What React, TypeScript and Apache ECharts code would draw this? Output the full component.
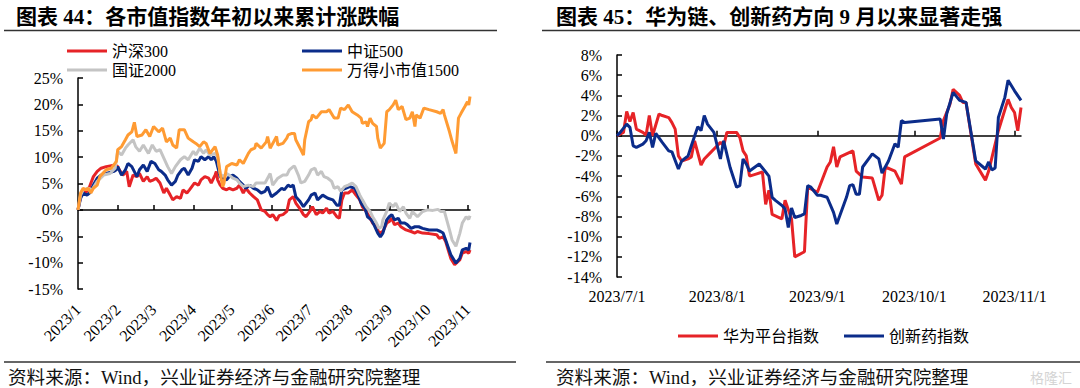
import React, { useEffect, useRef } from 'react';
import * as echarts from 'echarts';

// ---------- Left chart: 各市值指数年初以来累计涨跌幅 ----------
const leftRange = ['2023-01-01', '2023-11-03'];
const leftMonthTicks = ['2023-01-01', '2023-02-01', '2023-03-01', '2023-04-01', '2023-05-01', '2023-06-01', '2023-07-01', '2023-08-01', '2023-09-01', '2023-10-01', '2023-11-01'];
const leftNames = ['沪深300', '中证500', '国证2000', '万得小市值1500'];

const hs300: [string, number][] = [
  ['2023-01-01', 0], ['2023-01-03', 2.5], ['2023-01-05', 3.2], ['2023-01-08', 3.5], ['2023-01-10', 4.4], ['2023-01-13', 6.3], ['2023-01-16', 7.3], ['2023-01-19', 7.9], ['2023-01-23', 8.2], ['2023-01-30', 8.5],
  ['2023-02-01', 8.2], ['2023-02-03', 7.3], ['2023-02-05', 6.6], ['2023-02-08', 7.3], ['2023-02-10', 4.4], ['2023-02-13', 6.6], ['2023-02-16', 6.3], ['2023-02-18', 6.9], ['2023-02-21', 5.4], ['2023-02-24', 6.3], ['2023-02-26', 5.4],
  ['2023-03-01', 5.7], ['2023-03-03', 6.0], ['2023-03-06', 5.1], ['2023-03-09', 3.2], ['2023-03-11', 4.1], ['2023-03-14', 2.8], ['2023-03-16', 1.9], ['2023-03-19', 2.5], ['2023-03-22', 2.2], ['2023-03-24', 3.8], ['2023-03-27', 3.2], ['2023-03-29', 3.8],
  ['2023-04-02', 5.1], ['2023-04-05', 4.7], ['2023-04-07', 5.7], ['2023-04-10', 6.3], ['2023-04-13', 6.0], ['2023-04-15', 5.1], ['2023-04-18', 6.6], ['2023-04-19', 7.3], ['2023-04-20', 5.7], ['2023-04-22', 4.7], ['2023-04-24', 4.1], ['2023-04-27', 3.8], ['2023-04-29', 4.1],
  ['2023-05-02', 3.8], ['2023-05-05', 4.1], ['2023-05-07', 4.7], ['2023-05-10', 3.2], ['2023-05-12', 4.1], ['2023-05-15', 3.2], ['2023-05-18', 2.5], ['2023-05-21', 1.9], ['2023-05-24', 0], ['2023-05-27', -0.3], ['2023-05-29', -0.9], ['2023-05-31', -1.3],
  ['2023-06-02', -0.9], ['2023-06-05', -2.0], ['2023-06-07', -1.1], ['2023-06-10', -0.9], ['2023-06-13', -0.3], ['2023-06-15', 1.9], ['2023-06-18', 2.5], ['2023-06-20', 1.3], ['2023-06-23', 0.3], ['2023-06-26', -0.9], ['2023-06-28', -1.3],
  ['2023-07-01', -0.3], ['2023-07-03', 0.6], ['2023-07-06', -0.9], ['2023-07-09', -0.3], ['2023-07-11', -0.6], ['2023-07-14', 0.3], ['2023-07-16', -0.6], ['2023-07-19', -0.3], ['2023-07-22', -1.3], ['2023-07-24', -1.6], ['2023-07-26', 1.9], ['2023-07-28', 3.2], ['2023-07-31', 3.2],
  ['2023-08-03', 3.8], ['2023-08-06', 2.8], ['2023-08-09', 1.9], ['2023-08-11', 0.6], ['2023-08-14', -0.3], ['2023-08-17', -1.6], ['2023-08-19', -2.5], ['2023-08-22', -3.2], ['2023-08-24', -4.4], ['2023-08-27', -4.1], ['2023-08-30', -2.5],
  ['2023-09-01', -2.2], ['2023-09-03', -1.6], ['2023-09-05', -2.8], ['2023-09-08', -2.5], ['2023-09-10', -3.2], ['2023-09-14', -3.8], ['2023-09-18', -4.1], ['2023-09-21', -4.4], ['2023-09-23', -4.1], ['2023-09-27', -4.4],
  ['2023-10-02', -4.5], ['2023-10-08', -4.7], ['2023-10-10', -5.4], ['2023-10-13', -5.1], ['2023-10-15', -6.0], ['2023-10-19', -9.2], ['2023-10-22', -10.4], ['2023-10-26', -9.5], ['2023-10-28', -8.2], ['2023-10-31', -7.9],
  ['2023-11-02', -8.2], ['2023-11-03', -7.6],
];

const zz500: [string, number][] = [
  ['2023-01-01', 0], ['2023-01-03', 2.2], ['2023-01-05', 3.2], ['2023-01-08', 2.8], ['2023-01-10', 3.2], ['2023-01-13', 4.7], ['2023-01-16', 6.0], ['2023-01-19', 6.6], ['2023-01-23', 6.9], ['2023-01-29', 7.3], ['2023-01-31', 7.6],
  ['2023-02-01', 8.2], ['2023-02-04', 6.6], ['2023-02-07', 7.6], ['2023-02-09', 8.8], ['2023-02-12', 8.2], ['2023-02-16', 6.3], ['2023-02-18', 7.6], ['2023-02-21', 8.5], ['2023-02-24', 7.3], ['2023-02-27', 9.2],
  ['2023-03-02', 8.8], ['2023-03-05', 7.6], ['2023-03-07', 7.3], ['2023-03-10', 6.6], ['2023-03-12', 5.7], ['2023-03-15', 4.7], ['2023-03-18', 5.4], ['2023-03-20', 6.6], ['2023-03-23', 7.6], ['2023-03-25', 7.9], ['2023-03-28', 6.6], ['2023-03-31', 7.9],
  ['2023-04-02', 9.5], ['2023-04-05', 9.2], ['2023-04-07', 10.1], ['2023-04-10', 9.5], ['2023-04-13', 10.1], ['2023-04-15', 9.5], ['2023-04-17', 10.1], ['2023-04-19', 9.2], ['2023-04-22', 6.3], ['2023-04-24', 6.0], ['2023-04-27', 5.7], ['2023-04-29', 6.3],
  ['2023-05-02', 6.6], ['2023-05-05', 6.0], ['2023-05-07', 5.4], ['2023-05-10', 4.7], ['2023-05-12', 4.1], ['2023-05-15', 4.7], ['2023-05-18', 4.1], ['2023-05-21', 3.8], ['2023-05-24', 3.2], ['2023-05-27', 3.5], ['2023-05-29', 4.4],
  ['2023-06-01', 2.5], ['2023-06-05', 3.2], ['2023-06-09', 4.1], ['2023-06-11', 3.8], ['2023-06-14', 4.7], ['2023-06-16', 4.4], ['2023-06-18', 4.7], ['2023-06-20', 2.5], ['2023-06-23', 1.7], ['2023-06-26', 0.6], ['2023-06-30', 1.9],
  ['2023-07-02', 2.8], ['2023-07-05', 3.2], ['2023-07-07', 1.9], ['2023-07-11', 2.8], ['2023-07-15', 2.2], ['2023-07-19', 1.9], ['2023-07-22', 0.9], ['2023-07-24', 0.9], ['2023-07-26', 3.8], ['2023-07-29', 4.1],
  ['2023-08-01', 4.4], ['2023-08-05', 4.1], ['2023-08-07', 3.2], ['2023-08-10', 1.3], ['2023-08-13', 0.3], ['2023-08-15', -1.3], ['2023-08-18', -1.9], ['2023-08-20', -2.8], ['2023-08-23', -4.4], ['2023-08-25', -5.1], ['2023-08-27', -4.4], ['2023-08-30', -1.9],
  ['2023-09-01', -1.3], ['2023-09-03', -0.9], ['2023-09-05', -1.9], ['2023-09-08', -1.6], ['2023-09-10', -2.5], ['2023-09-13', -2.5], ['2023-09-15', -2.8], ['2023-09-18', -3.5], ['2023-09-21', -3.2], ['2023-09-24', -3.2], ['2023-09-27', -3.5],
  ['2023-10-02', -3.8], ['2023-10-08', -3.8], ['2023-10-11', -4.1], ['2023-10-13', -4.4], ['2023-10-15', -5.7], ['2023-10-19', -8.5], ['2023-10-23', -10.1], ['2023-10-26', -9.2], ['2023-10-28', -7.6], ['2023-10-31', -7.3],
  ['2023-11-02', -7.6], ['2023-11-03', -6.2],
];

const gz2000: [string, number][] = [
  ['2023-01-01', 0], ['2023-01-03', 2.8], ['2023-01-05', 3.8], ['2023-01-09', 4.1], ['2023-01-12', 3.8], ['2023-01-16', 5.4], ['2023-01-21', 6.6], ['2023-01-26', 6.9], ['2023-01-30', 7.9],
  ['2023-02-01', 11.1], ['2023-02-04', 10.4], ['2023-02-07', 11.7], ['2023-02-09', 12.3], ['2023-02-13', 13.3], ['2023-02-15', 12.0], ['2023-02-18', 11.1], ['2023-02-21', 12.3], ['2023-02-25', 10.7], ['2023-02-28', 12.3],
  ['2023-03-03', 11.1], ['2023-03-06', 11.4], ['2023-03-09', 9.8], ['2023-03-12', 8.2], ['2023-03-15', 6.9], ['2023-03-18', 8.2], ['2023-03-22', 9.5], ['2023-03-25', 10.1], ['2023-03-28', 9.5],
  ['2023-04-01', 11.1], ['2023-04-03', 10.4], ['2023-04-06', 11.7], ['2023-04-09', 10.7], ['2023-04-11', 11.4], ['2023-04-14', 10.4], ['2023-04-18', 10.7], ['2023-04-20', 10.1], ['2023-04-22', 6.9], ['2023-04-24', 6.3], ['2023-04-27', 6.9], ['2023-04-29', 6.6],
  ['2023-05-02', 6.0], ['2023-05-05', 5.7], ['2023-05-07', 5.1], ['2023-05-10', 4.4], ['2023-05-14', 4.7], ['2023-05-18', 4.4], ['2023-05-20', 5.1], ['2023-05-24', 5.1], ['2023-05-27', 5.1], ['2023-05-29', 6.0], ['2023-05-31', 6.9],
  ['2023-06-02', 4.7], ['2023-06-06', 6.0], ['2023-06-10', 6.6], ['2023-06-13', 6.6], ['2023-06-15', 7.6], ['2023-06-18', 8.2], ['2023-06-19', 8.3], ['2023-06-22', 6.6], ['2023-06-24', 5.1], ['2023-06-27', 5.4], ['2023-06-30', 6.6],
  ['2023-07-02', 7.6], ['2023-07-05', 7.9], ['2023-07-07', 6.6], ['2023-07-10', 7.3], ['2023-07-12', 6.3], ['2023-07-15', 6.0], ['2023-07-18', 5.4], ['2023-07-20', 4.1], ['2023-07-23', 4.4], ['2023-07-25', 3.5], ['2023-07-28', 4.4], ['2023-07-31', 4.7],
  ['2023-08-03', 5.1], ['2023-08-06', 4.4], ['2023-08-09', 2.8], ['2023-08-11', 1.9], ['2023-08-14', 0.6], ['2023-08-17', -0.3], ['2023-08-19', -1.3], ['2023-08-22', -2.5], ['2023-08-24', -3.5], ['2023-08-26', -3.2], ['2023-08-27', -1.9], ['2023-08-30', -0.3],
  ['2023-09-01', 1.3], ['2023-09-04', 0.6], ['2023-09-06', 1.3], ['2023-09-09', -0.3], ['2023-09-12', 0.6], ['2023-09-14', -0.6], ['2023-09-17', -1.6], ['2023-09-19', -0.3], ['2023-09-23', -1.3], ['2023-09-27', -0.3],
  ['2023-10-01', 0], ['2023-10-05', -0.1], ['2023-10-09', 0.1], ['2023-10-11', -0.3], ['2023-10-14', -0.3], ['2023-10-18', -3.8], ['2023-10-20', -5.7], ['2023-10-23', -6.9], ['2023-10-26', -4.5], ['2023-10-28', -2.5], ['2023-10-31', -1.3],
  ['2023-11-02', -1.8], ['2023-11-03', -1.1],
];

const wd1500: [string, number][] = [
  ['2023-01-01', 0], ['2023-01-03', 3.2], ['2023-01-05', 4.1], ['2023-01-07', 3.8], ['2023-01-09', 4.1], ['2023-01-11', 3.2], ['2023-01-13', 4.1], ['2023-01-16', 4.7], ['2023-01-18', 6.3], ['2023-01-23', 7.6], ['2023-01-27', 7.9], ['2023-01-31', 9.2],
  ['2023-02-01', 11.4], ['2023-02-04', 12.0], ['2023-02-07', 13.3], ['2023-02-09', 14.2], ['2023-02-12', 14.8], ['2023-02-14', 16.6], ['2023-02-16', 13.9], ['2023-02-20', 14.2], ['2023-02-23', 15.2], ['2023-02-26', 13.9],
  ['2023-03-01', 15.8], ['2023-03-05', 14.8], ['2023-03-08', 15.5], ['2023-03-11', 12.9], ['2023-03-14', 13.6], ['2023-03-16', 12.3], ['2023-03-19', 11.7], ['2023-03-21', 15.2], ['2023-03-25', 15.2], ['2023-03-28', 13.6],
  ['2023-04-01', 12.9], ['2023-04-03', 12.6], ['2023-04-06', 12.0], ['2023-04-09', 12.9], ['2023-04-11', 12.6], ['2023-04-14', 10.7], ['2023-04-18', 12.0], ['2023-04-20', 10.4], ['2023-04-22', 6.9], ['2023-04-24', 4.4], ['2023-04-25', 5.1], ['2023-04-27', 8.2],
  ['2023-05-01', 8.8], ['2023-05-05', 8.5], ['2023-05-07', 9.5], ['2023-05-10', 8.8], ['2023-05-14', 10.7], ['2023-05-16', 11.4], ['2023-05-19', 11.7], ['2023-05-20', 12.6], ['2023-05-24', 11.7], ['2023-05-28', 12.9], ['2023-05-29', 13.9], ['2023-05-31', 11.7],
  ['2023-06-05', 13.9], ['2023-06-06', 12.3], ['2023-06-10', 12.6], ['2023-06-13', 13.6], ['2023-06-14', 14.2], ['2023-06-17', 14.5], ['2023-06-19', 14.5], ['2023-06-20', 13.3], ['2023-06-24', 11.4], ['2023-06-26', 10.4], ['2023-06-27', 13.3], ['2023-06-30', 16.7],
  ['2023-07-02', 17.1], ['2023-07-03', 18.0], ['2023-07-06', 17.4], ['2023-07-10', 18.6], ['2023-07-14', 18.6], ['2023-07-16', 19.0], ['2023-07-20', 17.4], ['2023-07-23', 17.4], ['2023-07-25', 19.3], ['2023-07-28', 19.0], ['2023-07-31', 19.9],
  ['2023-08-03', 18.6], ['2023-08-07', 18.0], ['2023-08-10', 17.4], ['2023-08-11', 16.4], ['2023-08-14', 16.7], ['2023-08-15', 15.8], ['2023-08-17', 17.4], ['2023-08-19', 16.4], ['2023-08-22', 15.8], ['2023-08-23', 13.6], ['2023-08-25', 11.7], ['2023-08-28', 12.6], ['2023-08-30', 18.6],
  ['2023-09-01', 19.0], ['2023-09-04', 19.9], ['2023-09-06', 20.8], ['2023-09-08', 19.0], ['2023-09-11', 19.6], ['2023-09-14', 17.1], ['2023-09-17', 17.4], ['2023-09-19', 18.6], ['2023-09-21', 15.8], ['2023-09-22', 18.0], ['2023-09-25', 17.4], ['2023-09-28', 19.3],
  ['2023-10-02', 19.0], ['2023-10-08', 18.6], ['2023-10-11', 18.3], ['2023-10-13', 19.0], ['2023-10-14', 18.0], ['2023-10-18', 14.8], ['2023-10-20', 13.0], ['2023-10-23', 10.7], ['2023-10-25', 17.4], ['2023-10-27', 18.3], ['2023-10-30', 19.6],
  ['2023-11-01', 20.5], ['2023-11-02', 19.9], ['2023-11-03', 21.5],
];

// ---------- Right chart: 华为链、创新药方向 9 月以来显著走强 ----------
const rightRange = ['2023-07-01', '2023-11-03'];
const rightMonthTicks = ['2023-07-01', '2023-08-01', '2023-09-01', '2023-10-01', '2023-11-01'];
const rightNames = ['华为平台指数', '创新药指数'];

const huawei: [string, number][] = [
  ['2023-07-01', 0], ['2023-07-03', 0.33], ['2023-07-04', 2.4], ['2023-07-05', 1.4], ['2023-07-06', 2.3], ['2023-07-07', 0.66], ['2023-07-09', 0.33], ['2023-07-10', 0.07], ['2023-07-11', 2.0], ['2023-07-12', 0.0],
  ['2023-07-14', 2.15], ['2023-07-15', 2.0], ['2023-07-17', 1.8], ['2023-07-18', 1.3], ['2023-07-19', 0.66], ['2023-07-20', -2.0], ['2023-07-21', -2.5], ['2023-07-23', -2.3], ['2023-07-24', -2.1], ['2023-07-25', -0.5],
  ['2023-07-27', -2.9], ['2023-07-28', -2.3], ['2023-07-30', -1.65], ['2023-08-01', -1.0], ['2023-08-02', -0.66], ['2023-08-03', -1.0], ['2023-08-04', 0.33], ['2023-08-06', 0.33], ['2023-08-07', 0.33], ['2023-08-08', -0.17],
  ['2023-08-09', -1.5], ['2023-08-10', -2.0], ['2023-08-11', -4.0], ['2023-08-13', -3.8], ['2023-08-15', -3.6], ['2023-08-16', -6.8], ['2023-08-17', -5.4], ['2023-08-18', -7.8], ['2023-08-20', -8.1], ['2023-08-21', -8.25],
  ['2023-08-22', -6.4], ['2023-08-24', -8.25], ['2023-08-25', -12.0], ['2023-08-28', -11.5], ['2023-08-29', -5.1], ['2023-09-01', -5.6], ['2023-09-04', -3.1], ['2023-09-05', -2.6], ['2023-09-06', -1.1], ['2023-09-07', -3.1],
  ['2023-09-08', -2.1], ['2023-09-12', -1.5], ['2023-09-13', -3.5], ['2023-09-15', -4.1], ['2023-09-18', -4.2], ['2023-09-20', -6.4], ['2023-09-21', -5.9], ['2023-09-22', -3.1], ['2023-09-25', -3.5], ['2023-09-27', -4.8],
  ['2023-09-28', -2.1], ['2023-10-09', -0.23], ['2023-10-10', 1.5], ['2023-10-12', 3.1], ['2023-10-13', 4.6], ['2023-10-15', 4.0], ['2023-10-16', 3.3], ['2023-10-17', 3.3], ['2023-10-20', -2.8], ['2023-10-23', -4.4],
  ['2023-10-24', -3.5], ['2023-10-27', 0.5], ['2023-10-30', 3.6], ['2023-10-31', 2.8], ['2023-11-01', 2.3], ['2023-11-02', 0.5], ['2023-11-03', 2.8],
];

const innovDrug: [string, number][] = [
  ['2023-07-01', 0], ['2023-07-02', 0.33], ['2023-07-04', 1.15], ['2023-07-05', 0.83], ['2023-07-06', -1.0], ['2023-07-07', -1.15], ['2023-07-09', -0.83], ['2023-07-10', -0.5], ['2023-07-11', 0.33], ['2023-07-12', -1.15],
  ['2023-07-13', 0.23], ['2023-07-15', -0.66], ['2023-07-17', -1.5], ['2023-07-18', -1.6], ['2023-07-20', -3.3], ['2023-07-21', -2.5], ['2023-07-23', -2.0], ['2023-07-24', -1.0], ['2023-07-26', 0.9], ['2023-07-27', 0.5],
  ['2023-07-28', 2.0], ['2023-07-29', 1.15], ['2023-07-31', 0.33], ['2023-08-02', -2.3], ['2023-08-03', -0.5], ['2023-08-05', -3.15], ['2023-08-07', -5.1], ['2023-08-08', -4.95], ['2023-08-09', -2.3], ['2023-08-10', -2.8],
  ['2023-08-11', -3.5], ['2023-08-14', -2.8], ['2023-08-16', -3.6], ['2023-08-17', -4.0], ['2023-08-18', -6.1], ['2023-08-19', -6.4], ['2023-08-21', -6.9], ['2023-08-22', -7.25], ['2023-08-23', -9.1], ['2023-08-24', -7.15],
  ['2023-08-25', -8.1], ['2023-08-27', -7.9], ['2023-08-28', -7.75], ['2023-08-29', -4.95], ['2023-08-30', -5.1], ['2023-09-01', -5.9], ['2023-09-02', -5.9], ['2023-09-04', -6.1], ['2023-09-06', -7.6], ['2023-09-07', -8.75],
  ['2023-09-10', -6.1], ['2023-09-11', -4.95], ['2023-09-12', -4.85], ['2023-09-13', -5.8], ['2023-09-14', -5.8], ['2023-09-15', -3.1], ['2023-09-18', -1.8], ['2023-09-20', -2.3], ['2023-09-21', -3.7], ['2023-09-23', -2.5],
  ['2023-09-25', -0.8], ['2023-09-26', -1.15], ['2023-09-27', 1.5], ['2023-09-28', 1.3], ['2023-10-09', 1.65], ['2023-10-10', -0.33], ['2023-10-11', 2.15], ['2023-10-13', 4.3], ['2023-10-15', 3.5], ['2023-10-17', 3.3],
  ['2023-10-20', -2.5], ['2023-10-23', -3.3], ['2023-10-24', -2.6], ['2023-10-25', -3.4], ['2023-10-26', -3.2], ['2023-10-27', 1.8], ['2023-10-29', 3.8], ['2023-10-30', 5.5], ['2023-11-01', 4.45], ['2023-11-03', 3.5],
];

const titles = ['图表 44：各市值指数年初以来累计涨跌幅', '图表 45：华为链、创新药方向 9 月以来显著走强'];
const sourceText = '资料来源：Wind，兴业证券经济与金融研究院整理';

const colors = { red: '#E62327', blue: '#0B2C8A', grey: '#C4C4C4', orange: '#FF9B33' };
const SERIF = '"Liberation Serif", "Noto Sans CJK SC", serif';

function ts(s: string): number {
  const [y, m, d] = s.split('-').map(Number);
  return Date.UTC(y, m - 1, d);
}
function fmtMonth(v: number): string {
  const d = new Date(v);
  return `${d.getUTCFullYear()}/${d.getUTCMonth() + 1}`;
}
function fmtDay(v: number): string {
  const d = new Date(v);
  return `${d.getUTCFullYear()}/${d.getUTCMonth() + 1}/${d.getUTCDate()}`;
}
const toXY = (arr: [string, number][]) => arr.map(([d, v]) => [ts(d), v]);

export default function App() {
  const ref = useRef<HTMLDivElement>(null);

  useEffect(() => {
    if (!ref.current) return;
    const chart = echarts.init(ref.current, undefined, { renderer: 'svg' });

    const leftTicks = leftMonthTicks.map(ts);
    const rightTicks = rightMonthTicks.map(ts);
    const axisBlack = { color: '#000', width: 1.5 };
    const labelStyle = { color: '#000', fontSize: 16, fontFamily: SERIF };

    const lineSeries = (name: string, data: [string, number][], color: string, xi: number, yi: number) => ({
      name, type: 'line', data: toXY(data), xAxisIndex: xi, yAxisIndex: yi,
      showSymbol: false, symbol: 'none', color,
      lineStyle: { color, width: 3 }, emphasis: { disabled: true },
    });

    const legendText = { color: '#000', fontSize: 16, fontFamily: SERIF };

    const xLine = (grid: number, range: string[], ticks: number[]) => ({
      gridIndex: grid, type: 'value', min: ts(range[0]), max: ts(range[1]), position: 'bottom',
      axisLine: { show: true, onZero: true, lineStyle: axisBlack },
      axisTick: { show: true, inside: true, length: 5, customValues: ticks, lineStyle: axisBlack },
      axisLabel: { show: false }, splitLine: { show: false },
    });
    const xLabels = (grid: number, range: string[], ticks: number[], fmt: (v: number) => string, extra: any) => ({
      gridIndex: grid, type: 'value', min: ts(range[0]), max: ts(range[1]), position: 'bottom',
      axisLine: { show: false, onZero: false }, axisTick: { show: false }, splitLine: { show: false },
      axisLabel: { ...labelStyle, ...extra, customValues: ticks, formatter: (v: number) => fmt(v), showMinLabel: true, showMaxLabel: true, hideOverlap: false },
    });

    const option: any = {
      animation: false,
      backgroundColor: '#ffffff',
      textStyle: { fontFamily: SERIF },
      legend: [
        { left: 62, top: 38, icon: 'rect', itemWidth: 40, itemHeight: 3, itemGap: 134, selectedMode: false, data: [leftNames[0], leftNames[1]], textStyle: legendText },
        { left: 62, top: 57, icon: 'rect', itemWidth: 40, itemHeight: 3, itemGap: 126, selectedMode: false, data: [leftNames[2], leftNames[3]], textStyle: legendText },
        { left: 673, top: 323, icon: 'rect', itemWidth: 40, itemHeight: 3, itemGap: 25, selectedMode: false, data: rightNames, textStyle: legendText },
      ],
      grid: [
        { left: 78, top: 78, width: 392, height: 211 },
        { left: 617, top: 55, width: 404, height: 222 },
      ],
      xAxis: [
        xLine(0, leftRange, leftTicks),
        xLabels(0, leftRange, leftTicks, fmtMonth, { rotate: 45, margin: 18 }),
        xLine(1, rightRange, rightTicks),
        xLabels(1, rightRange, rightTicks, fmtDay, { margin: 11 }),
      ],
      yAxis: [
        {
          gridIndex: 0, type: 'value', min: -15, max: 25, interval: 5,
          axisLine: { show: true, lineStyle: axisBlack },
          axisTick: { show: true, inside: true, length: 5, lineStyle: axisBlack },
          axisLabel: { ...labelStyle, margin: 15, formatter: '{value}%' }, splitLine: { show: false },
        },
        {
          gridIndex: 1, type: 'value', min: -14, max: 8, interval: 2,
          axisLine: { show: true, lineStyle: axisBlack },
          axisTick: { show: true, inside: true, length: 5, lineStyle: axisBlack },
          axisLabel: { ...labelStyle, margin: 15, formatter: '{value}%' }, splitLine: { show: false },
        },
      ],
      series: [
        lineSeries(leftNames[0], hs300, colors.red, 0, 0),
        lineSeries(leftNames[1], zz500, colors.blue, 0, 0),
        lineSeries(leftNames[2], gz2000, colors.grey, 0, 0),
        lineSeries(leftNames[3], wd1500, colors.orange, 0, 0),
        lineSeries(rightNames[0], huawei, colors.red, 2, 1),
        lineSeries(rightNames[1], innovDrug, colors.blue, 2, 1),
      ],
      graphic: [
        { type: 'text', x: 16, y: 17, style: { text: titles[0], fontSize: 21, fontWeight: 'bold', fontFamily: SERIF, fill: '#000', verticalAlign: 'middle' } },
        { type: 'text', x: 556, y: 17, style: { text: titles[1], fontSize: 21, fontWeight: 'bold', fontFamily: SERIF, fill: '#000', verticalAlign: 'middle' } },
        { type: 'line', shape: { x1: 4, y1: 30.5, x2: 497, y2: 30.5 }, style: { stroke: '#333', lineWidth: 1.5 } },
        { type: 'line', shape: { x1: 542, y1: 30.5, x2: 1080, y2: 30.5 }, style: { stroke: '#333', lineWidth: 1.5 } },
        { type: 'line', shape: { x1: 4, y1: 362, x2: 516, y2: 362 }, style: { stroke: '#333', lineWidth: 1.5 } },
        { type: 'line', shape: { x1: 546, y1: 362, x2: 1080, y2: 362 }, style: { stroke: '#333', lineWidth: 1.5 } },
        { type: 'text', x: 8, y: 377, style: { text: sourceText, fontSize: 18.6, fontFamily: SERIF, fill: '#111', verticalAlign: 'middle' } },
        { type: 'text', x: 556, y: 377, style: { text: sourceText, fontSize: 18.6, fontFamily: SERIF, fill: '#111', verticalAlign: 'middle' } },
        { type: 'text', x: 1030, y: 377, style: { text: '格隆汇', fontSize: 14, fontFamily: '"Noto Sans CJK SC"', fill: '#d4d4d4', verticalAlign: 'middle' } },
      ],
    };

    chart.setOption(option);
    return () => chart.dispose();
  }, []);

  return (
    <div
      ref={ref}
      style={{ position: 'absolute', left: 0, top: 0, width: 1080, height: 388, background: '#fff' }}
    />
  );
}
